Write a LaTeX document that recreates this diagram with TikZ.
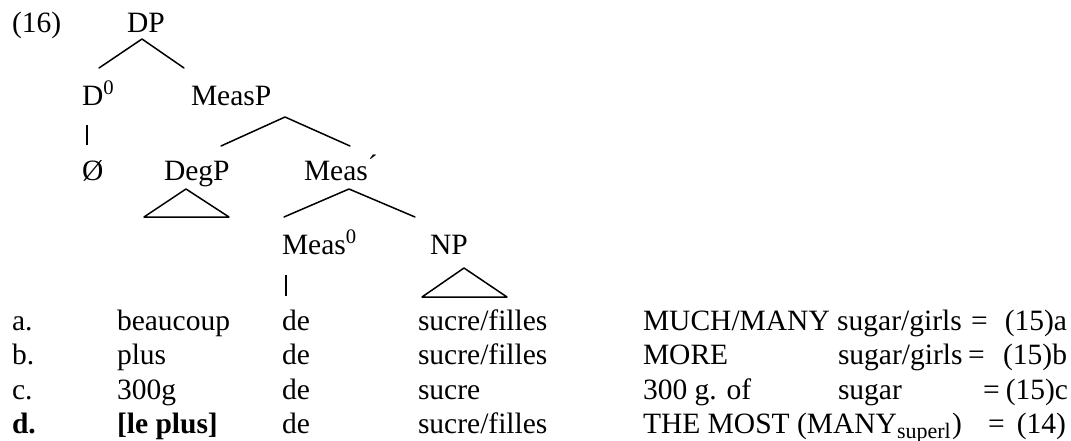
\documentclass[tikz,border=0pt]{standalone}
\usepackage{fontspec}
\setmainfont{Liberation Serif}
\begin{document}
\begin{tikzpicture}[x=0.4pt,y=-0.4pt,
  txt/.style={anchor=base west,inner sep=0pt,outer sep=0pt,font=\fontsize{11.8}{14}\selectfont},
  txtr/.style={anchor=base east,inner sep=0pt,outer sep=0pt,font=\fontsize{11.8}{14}\selectfont},
  branch/.style={line width=0.6pt,line cap=round,line join=round},
  stem/.style={line width=0.9pt}]
\useasboundingbox (0,0) rectangle (1071,440);
% tree labels
\node[txt] (ex) at (12,32) {(16)};
\node[txt] (DP) at (127,32) {DP};
\node[txt] (D0) at (82,105) {D\textsuperscript{0}};
\node[txt] (MeasP) at (191,105) {MeasP};
\node[txt] (Oslash) at (82,180) {Ø};
\node[txt] (DegP) at (164,180) {DegP};
\node[txt] (Measbar) at (304,180) {Meas\raisebox{2pt}{´}};
\node[txt] (Meas0) at (282,254) {Meas\textsuperscript{0}};
\node[txt] (NP) at (430,254) {NP};
% branch points
\coordinate (DPb) at (142,39);
\coordinate (D0t) at (99,68);
\coordinate (MeasPt) at (184,68);
\coordinate (MeasPb) at (285,117);
\coordinate (DegPt) at (221,146);
\coordinate (Measbart) at (350,146);
\coordinate (D0b) at (87,125);
\coordinate (Oslt) at (87,145);
\coordinate (DegPb) at (186,189);
\coordinate (DegPl) at (144,217);
\coordinate (DegPr) at (229,217);
\coordinate (Measbarb) at (349,189);
\coordinate (Meas0t) at (284,217);
\coordinate (NPt) at (415,217);
\coordinate (Meas0b) at (286,275);
\coordinate (det) at (286,296);
\coordinate (NPb) at (464,268);
\coordinate (NPl) at (422,297);
\coordinate (NPr) at (507,297);
\draw[branch] (D0t) -- (DPb) -- (MeasPt);
\draw[branch] (DegPt) -- (MeasPb) -- (Measbart);
\draw[stem] (D0b) -- (Oslt);
\draw[branch] (DegPl) -- (DegPb) -- (DegPr) -- cycle;
\draw[branch] (Meas0t) -- (Measbarb) -- (NPt);
\draw[stem] (Meas0b) -- (det);
\draw[branch] (NPl) -- (NPb) -- (NPr) -- cycle;
% rows
\node[txt] (la) at (12,330) {a.};
\node[txt] (wa1) at (117,330) {beaucoup};
\node[txt] (wa2) at (282,330) {de};
\node[txt] (wa3) at (418,330) {sucre/filles};
\node[txt] (ga1) at (643,330) {MUCH/MANY sugar/girls};
\node[txt] (ea) at (971,330) {=};
\node[txtr] (ra) at (1067,330) {(15)a};
\node[txt] (lb) at (12,364.5) {b.};
\node[txt] (wb1) at (117,364.5) {plus};
\node[txt] (wb2) at (282,364.5) {de};
\node[txt] (wb3) at (418,364.5) {sucre/filles};
\node[txt] (gb1) at (643,364.5) {MORE};
\node[txt] (gb2) at (838,364.5) {sugar/girls};
\node[txt] (eb) at (968,364.5) {=};
\node[txtr] (rb) at (1067,364.5) {(15)b};
\node[txt] (lc) at (12,399) {c.};
\node[txt] (wc1) at (117,399) {300g};
\node[txt] (wc2) at (282,399) {de};
\node[txt] (wc3) at (418,399) {sucre};
\node[txt] (gc1) at (643,399) {300 g. of};
\node[txt] (gc2) at (838,399) {sugar};
\node[txt] (ec) at (983,399) {=};
\node[txtr] (rc) at (1068,399) {(15)c};
\node[txt] (ld) at (12,433.5) {\bfseries d.};
\node[txt] (wd1) at (117,433.5) {\bfseries [le plus]};
\node[txt] (wd2) at (282,433.5) {de};
\node[txt] (wd3) at (418,433.5) {sucre/filles};
\node[txt] (gd1) at (643,433.5) {THE MOST (MANY\textsubscript{\fontsize{8.8}{9}\selectfont superl})};
\node[txt] (ed) at (988,433.5) {=};
\node[txtr] (rd) at (1066,433.5) {(14)};
\end{tikzpicture}
\end{document}
